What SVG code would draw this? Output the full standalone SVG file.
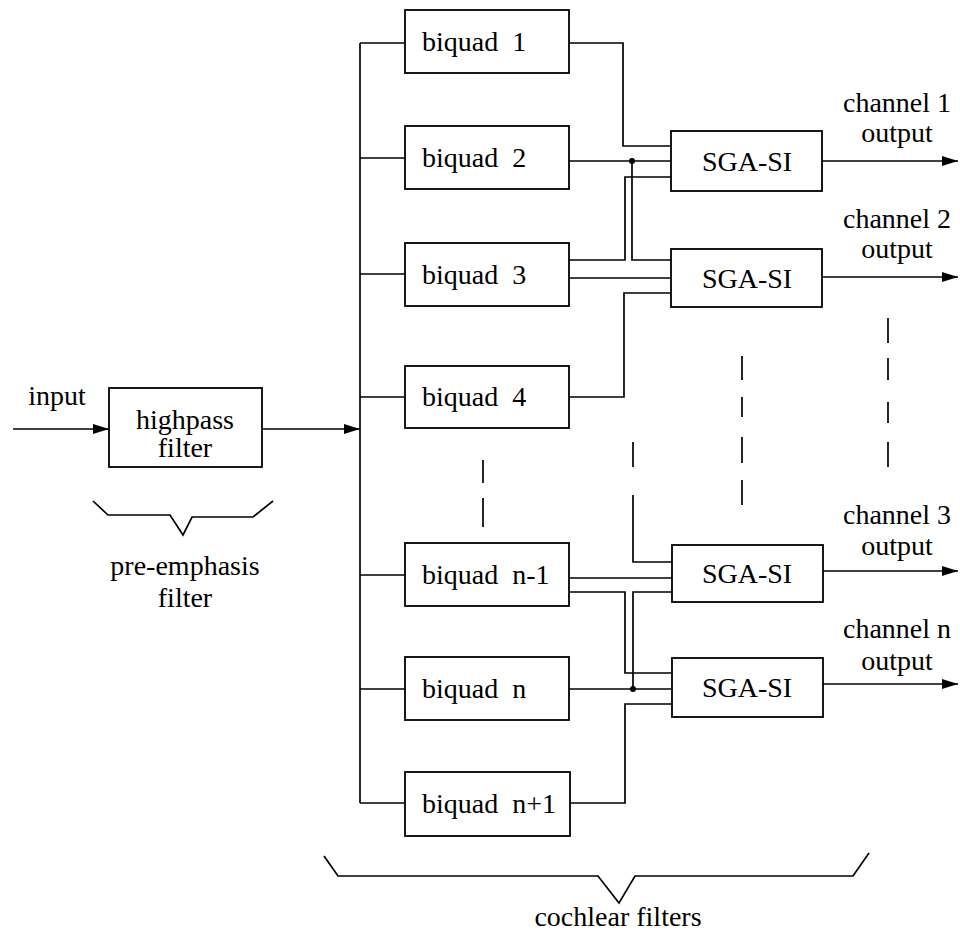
<svg xmlns="http://www.w3.org/2000/svg" width="960" height="942" viewBox="0 0 960 942">
<style>
.box{fill:#fff;stroke:#000;stroke-width:1.8}
.ln{fill:none;stroke:#000;stroke-width:1.7}
.ds{fill:none;stroke:#000;stroke-width:1.7}
.t{font-family:"Liberation Serif","Times New Roman","DejaVu Serif",serif;font-size:28px;fill:#000}
.c{text-anchor:middle}
</style>
<defs>
<marker id="ah" markerWidth="16" markerHeight="10" refX="16" refY="5" orient="auto" markerUnits="userSpaceOnUse">
<path d="M0,0 L16,5 L0,10 Z" fill="#000"/>
</marker>
</defs>
<rect width="960" height="942" fill="#fff"/>

<g id="connectors">
<line class="ln" x1="13" y1="429" x2="109" y2="429" marker-end="url(#ah)"/>
<line class="ln" x1="262" y1="429" x2="360" y2="429" marker-end="url(#ah)"/>
<line class="ln" x1="360" y1="43" x2="360" y2="803"/>
<line class="ln" x1="360" y1="43" x2="405" y2="43"/>
<line class="ln" x1="360" y1="158" x2="405" y2="158"/>
<line class="ln" x1="360" y1="274" x2="405" y2="274"/>
<line class="ln" x1="360" y1="397" x2="405" y2="397"/>
<line class="ln" x1="360" y1="575" x2="405" y2="575"/>
<line class="ln" x1="360" y1="689" x2="405" y2="689"/>
<line class="ln" x1="360" y1="803" x2="405" y2="803"/>
<polyline class="ln" points="569,43 623,43 623,146 671,146"/>
<line class="ln" x1="569" y1="161" x2="671" y2="161"/>
<polyline class="ln" points="632,161 632,260 671,260"/>
<polyline class="ln" points="569,260 625,260 625,177 671,177"/>
<line class="ln" x1="569" y1="278" x2="671" y2="278"/>
<polyline class="ln" points="569,397 624,397 624,293 671,293"/>
<circle cx="632" cy="161" r="3" fill="#000"/>
<polyline class="ln" points="633,495 633,562 672,562"/>
<line class="ln" x1="569" y1="578" x2="672" y2="578"/>
<polyline class="ln" points="569,592 625,592 625,673 671,673"/>
<polyline class="ln" points="633,689 633,592 672,592"/>
<line class="ln" x1="569" y1="689" x2="671" y2="689"/>
<polyline class="ln" points="569,803 625,803 625,704 671,704"/>
<circle cx="633" cy="689" r="3" fill="#000"/>
<line class="ln" x1="822" y1="161" x2="958" y2="161" marker-end="url(#ah)"/>
<line class="ln" x1="822" y1="277" x2="958" y2="277" marker-end="url(#ah)"/>
<line class="ln" x1="823" y1="571" x2="958" y2="571" marker-end="url(#ah)"/>
<line class="ln" x1="823" y1="684" x2="958" y2="684" marker-end="url(#ah)"/>
<path class="ds" d="M483,460V483M483,498V527"/>
<path class="ds" d="M633,442V467"/>
<path class="ds" d="M742,356V380M742,397V417M742,437V463M742,480V505"/>
<path class="ds" d="M888,318V343M888,358V380M888,402V423M888,442V467"/>
</g>

<g id="input-label"><text class="t c" x="57" y="405">input</text></g>

<g id="highpass">
<rect class="box" x="109" y="388" width="153" height="79"/>
<text class="t c" x="185" y="429">highpass</text>
<text class="t c" x="185" y="457">filter</text>
</g>

<g id="pre-emphasis">
<polyline class="ln" points="93,501 108,515 170,515 183,535 192,517 253,517 273,501"/>
<text class="t c" x="185" y="575">pre-emphasis</text>
<text class="t c" x="185" y="607">filter</text>
</g>

<g id="biquad1"><rect class="box" x="405" y="10" width="164" height="63"/><text class="t" x="422" y="51" xml:space="preserve">biquad  1</text></g>
<g id="biquad2"><rect class="box" x="405" y="126" width="164" height="63"/><text class="t" x="422" y="167" xml:space="preserve">biquad  2</text></g>
<g id="biquad3"><rect class="box" x="405" y="243" width="164" height="63"/><text class="t" x="422" y="284" xml:space="preserve">biquad  3</text></g>
<g id="biquad4"><rect class="box" x="405" y="366" width="164" height="62"/><text class="t" x="422" y="406" xml:space="preserve">biquad  4</text></g>
<g id="biquadn-1"><rect class="box" x="405" y="543" width="164" height="63"/><text class="t" x="422" y="584" xml:space="preserve">biquad  n-1</text></g>
<g id="biquadn"><rect class="box" x="405" y="657" width="164" height="63"/><text class="t" x="422" y="698" xml:space="preserve">biquad  n</text></g>
<g id="biquadn+1"><rect class="box" x="405" y="772" width="165" height="64"/><text class="t" x="422" y="813" xml:space="preserve">biquad  n+1</text></g>

<g id="sga1"><rect class="box" x="671" y="131" width="151" height="60"/><text class="t c" x="747" y="171">SGA-SI</text></g>
<g id="sga2"><rect class="box" x="671" y="249" width="151" height="58"/><text class="t c" x="747" y="288">SGA-SI</text></g>
<g id="sga3"><rect class="box" x="672" y="545" width="151" height="57"/><text class="t c" x="747" y="583">SGA-SI</text></g>
<g id="sga4"><rect class="box" x="672" y="658" width="151" height="59"/><text class="t c" x="747" y="697">SGA-SI</text></g>

<g id="out1"><text class="t c" x="897" y="112">channel 1</text><text class="t c" x="897" y="142">output</text></g>
<g id="out2"><text class="t c" x="897" y="228">channel 2</text><text class="t c" x="897" y="258">output</text></g>
<g id="out3"><text class="t c" x="897" y="524">channel 3</text><text class="t c" x="897" y="555">output</text></g>
<g id="outn"><text class="t c" x="897" y="638">channel n</text><text class="t c" x="897" y="670">output</text></g>

<g id="cochlear">
<polyline class="ln" points="324,856 338,876 598,876 619,903 635,876 853,876 869,853"/>
<text class="t c" x="618" y="926">cochlear filters</text>
</g>
</svg>
